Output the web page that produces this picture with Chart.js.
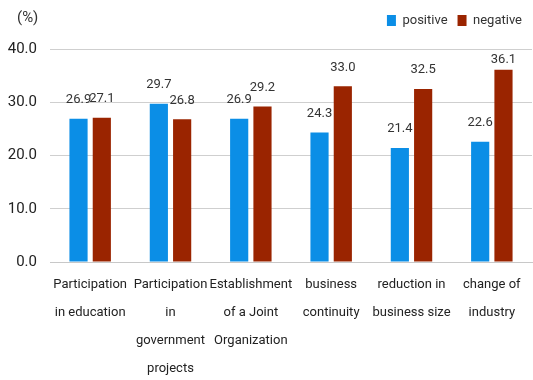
<!DOCTYPE html>
<html>
<head>
<meta charset="utf-8">
<script src="https://cdn.jsdelivr.net/npm/chart.js@4"></script>
<style>
  html, body { margin: 0; padding: 0; background: #fff; }
  #wrap { width: 533px; height: 380px; }
</style>
</head>
<body>
<div id="wrap"><canvas id="chart"></canvas></div>
<script>
const categories = [
    ['Participation', 'in education'],
    ['Participation', 'in', 'government', 'projects'],
    ['Establishment', 'of a Joint', 'Organization'],
    ['business', 'continuity'],
    ['reduction in', 'business size'],
    ['change of', 'industry']
];
const positive = [26.9, 29.7, 26.9, 24.3, 21.4, 22.6];
const negative = [27.1, 26.8, 29.2, 33.0, 32.5, 36.1];
const seriesNames = ['positive', 'negative'];

const FONT = 'Roboto, "Noto Sans", sans-serif';

// value labels above the bars + the "(%)" unit
const valueLabels = {
    id: 'valueLabels',
    afterDatasetsDraw(chart) {
        const ctx = chart.ctx;
        const top = chart.chartArea.top;
        ctx.save();
        ctx.font = '13px ' + FONT;
        ctx.fillStyle = '#333';
        ctx.textAlign = 'center';
        ctx.textBaseline = 'middle';
        chart.data.datasets.forEach((ds, i) => {
            chart.getDatasetMeta(i).data.forEach((bar, j) => {
                // keep labels inside the plot when a bar is near the top
                const y = Math.max(bar.y - 19, top + 11);
                ctx.fillText(ds.data[j].toFixed(1), bar.x, y);
            });
        });
        ctx.font = '15px ' + FONT;
        ctx.textAlign = 'left';
        ctx.fillText('(%)', 17, 18);
        ctx.restore();
    }
};

// extra room between legend and plot
const legendGap = {
    id: 'legendGap',
    beforeInit(chart) {
        const fit = chart.legend.fit;
        chart.legend.fit = function() {
            fit.bind(chart.legend)();
            this.height += 12;
        };
    }
};

new Chart(document.getElementById('chart'), {
    type: 'bar',
    data: {
        labels: categories,
        datasets: [
            { label: seriesNames[0], data: positive, backgroundColor: '#0b8ee6' },
            { label: seriesNames[1], data: negative, backgroundColor: '#9a2400' }
        ]
    },
    options: {
        responsive: true,
        maintainAspectRatio: false,
        animation: false,
        categoryPercentage: 0.58,
        barPercentage: 0.78,
        layout: { padding: { top: 4, right: 1, left: 0, bottom: 0 } },
        plugins: {
            legend: {
                position: 'top',
                align: 'end',
                labels: {
                    boxWidth: 9,
                    boxHeight: 11,
                    padding: 10,
                    color: '#333',
                    font: { family: FONT, size: 13 }
                }
            },
            tooltip: { enabled: false }
        },
        scales: {
            x: {
                afterFit: scale => { scale.height = 118; },
                grid: { display: false, drawTicks: false },
                border: { color: '#c8c8c8' },
                ticks: {
                    color: '#222',
                    maxRotation: 0,
                    autoSkip: false,
                    padding: 9,
                    font: { family: FONT, size: 13, lineHeight: 2.15 }
                }
            },
            y: {
                afterFit: scale => { scale.width = 50; },
                min: 0,
                max: 40,
                border: { display: false },
                grid: { color: '#cfcfcf', drawTicks: false },
                ticks: {
                    stepSize: 10,
                    color: '#222',
                    padding: 13,
                    font: { family: FONT, size: 15 },
                    callback: v => v.toFixed(1)
                }
            }
        }
    },
    plugins: [valueLabels, legendGap]
});
</script>
</body>
</html>
